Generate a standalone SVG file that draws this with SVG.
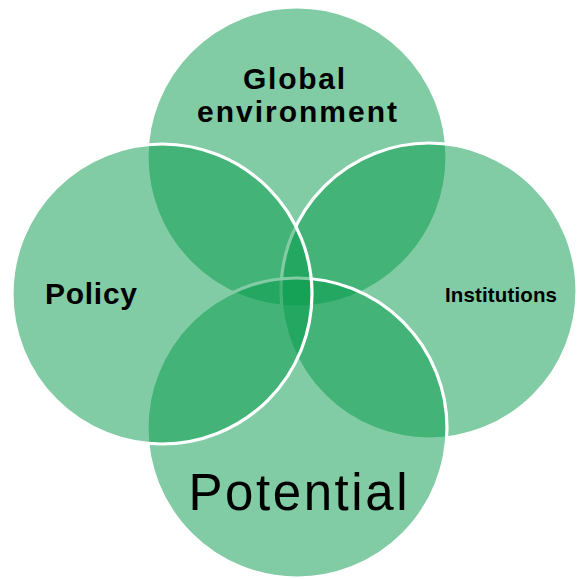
<svg xmlns="http://www.w3.org/2000/svg" width="583" height="579" viewBox="0 0 583 579">
  <style>
    .c { fill: #079a4d; fill-opacity: 0.51; stroke: #ffffff; stroke-width: 3.2; }
    .b { font-family: "Liberation Sans", Arial, sans-serif; font-weight: bold; fill: #000; text-anchor: middle; }
    .r { font-family: "Liberation Sans", Arial, sans-serif; font-weight: normal; fill: #000; text-anchor: middle; }
  </style>
  <rect width="583" height="579" fill="#ffffff"/>
  <g id="global-environment">
    <circle class="c" cx="297" cy="157" r="150"/>
    <text class="b" x="294" y="88.5" font-size="30" textLength="102" lengthAdjust="spacing">Global</text>
    <text class="b" x="297" y="121.5" font-size="30" textLength="200" lengthAdjust="spacing">environment</text>
  </g>
  <g id="institutions">
    <circle class="c" cx="429" cy="291" r="148"/>
    <text class="b" x="501" y="301.5" font-size="20.5" textLength="112" lengthAdjust="spacing">Institutions</text>
  </g>
  <g id="potential">
    <circle class="c" cx="297" cy="428" r="150"/>
    <text class="r" x="298" y="510" font-size="51" textLength="219" lengthAdjust="spacing">Potential</text>
  </g>
  <g id="policy">
    <circle class="c" cx="162" cy="294" r="150"/>
    <text class="b" x="91" y="304" font-size="30" textLength="92" lengthAdjust="spacing">Policy</text>
  </g>
</svg>
